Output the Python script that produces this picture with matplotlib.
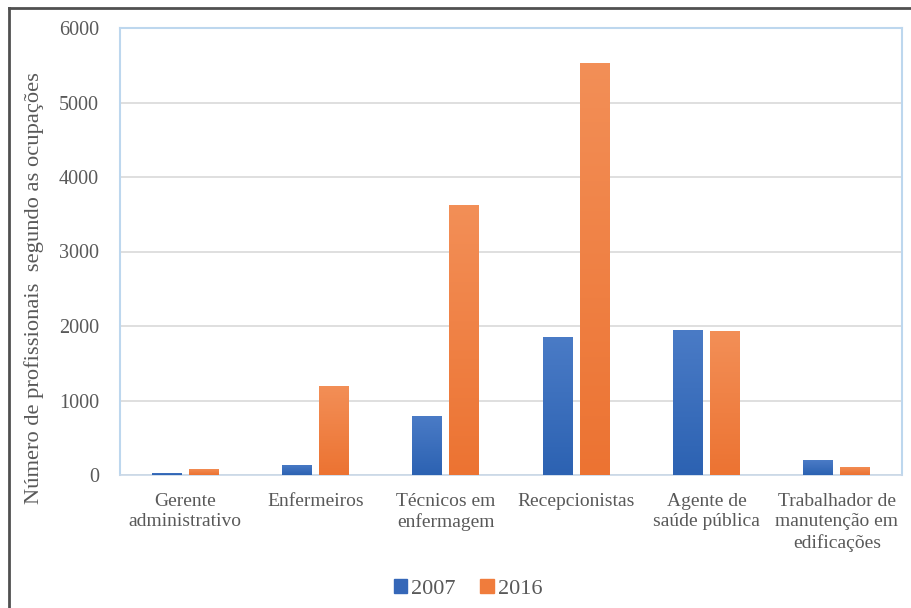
import numpy as np
import matplotlib
matplotlib.use("Agg")
import matplotlib.pyplot as plt
from matplotlib.lines import Line2D
from matplotlib.patches import Patch
from matplotlib.colors import LinearSegmentedColormap

categories = ["Gerente\nadministrativo", "Enfermeiros", "Técnicos em\nenfermagem",
              "Recepcionistas", "Agente de\nsaúde pública",
              "Trabalhador de\nmanutenção em\nedificações"]
vals_2007 = [30, 135, 790, 1850, 1940, 200]
vals_2016 = [85, 1200, 3620, 5530, 1930, 110]
series_names = ["2007", "2016"]
yticks = [0, 1000, 2000, 3000, 4000, 5000, 6000]

blue = "#3567B8"
orange = "#F07C3C"
text_col = "#595959"
blue_grad = LinearSegmentedColormap.from_list("b", ["#2C62B2", "#4A7BC6"])
orange_grad = LinearSegmentedColormap.from_list("o", ["#EC7332", "#F38F57"])

plt.rcParams["font.family"] = ["Liberation Serif", "DejaVu Serif"]

fig = plt.figure(figsize=(9.12, 6.08), dpi=100)
ax = fig.add_axes([120 / 912, 133 / 608, 782 / 912, 447 / 608])

x = np.arange(len(categories))
w = 0.23
off = 0.142
bars1 = ax.bar(x - off, vals_2007, w, color=blue, zorder=3)
bars2 = ax.bar(x + off, vals_2016, w, color=orange, zorder=3)

# vertical gradient fill inside each bar
grad = np.linspace(0, 1, 256).reshape(-1, 1)
for bars, cmap in [(bars1, blue_grad), (bars2, orange_grad)]:
    for b in bars:
        bx, by = b.get_x(), b.get_y()
        bw, bh = b.get_width(), b.get_height()
        im = ax.imshow(grad, cmap=cmap, origin="lower", aspect="auto",
                       extent=[bx, bx + bw, by, by + bh], zorder=3.5)
        im.set_clip_path(b)
ax.set_xlim(-0.5, len(categories) - 0.5)
ax.set_ylim(0, 6000)

ax.set_yticks(yticks)
ax.set_yticklabels([str(t) for t in yticks])
ax.set_xticks(x)
ax.set_xticklabels(categories, linespacing=1.25)
ax.tick_params(axis="both", length=0, labelsize=14, colors=text_col)
ax.tick_params(axis="y", pad=15, labelsize=14.5)
ax.tick_params(axis="x", pad=13)

ax.grid(axis="y", color="#D9D9D9", lw=1.2, zorder=0)
for s in ["left", "top", "right"]:
    ax.spines[s].set_color("#BDD7EE")
    ax.spines[s].set_linewidth(1.5)
ax.spines["bottom"].set_color("#C9D8E8")
ax.spines["bottom"].set_linewidth(1.2)

ax.set_ylabel("Número de profissionais  segundo as ocupações", fontsize=16.2,
              color=text_col, labelpad=12)
ax.yaxis.set_label_coords(-0.097, 0.418)

handles = [Patch(color=blue), Patch(color=orange)]
fig.legend(handles, series_names, loc="center", bbox_to_anchor=(468 / 912, 1 - 589 / 608),
           ncol=2, frameon=False, fontsize=16, labelcolor=text_col,
           handlelength=0.6, handleheight=0.6, handletextpad=0.2, columnspacing=1.1)

# outer frame (top and left edges visible)
fig.add_artist(Line2D([9 / 912, 1], [1 - 8 / 608, 1 - 8 / 608], color="#505050", lw=2))
fig.add_artist(Line2D([9 / 912, 9 / 912], [0, 1 - 8 / 608], color="#505050", lw=2))

fig.savefig("out.png", dpi=100)
